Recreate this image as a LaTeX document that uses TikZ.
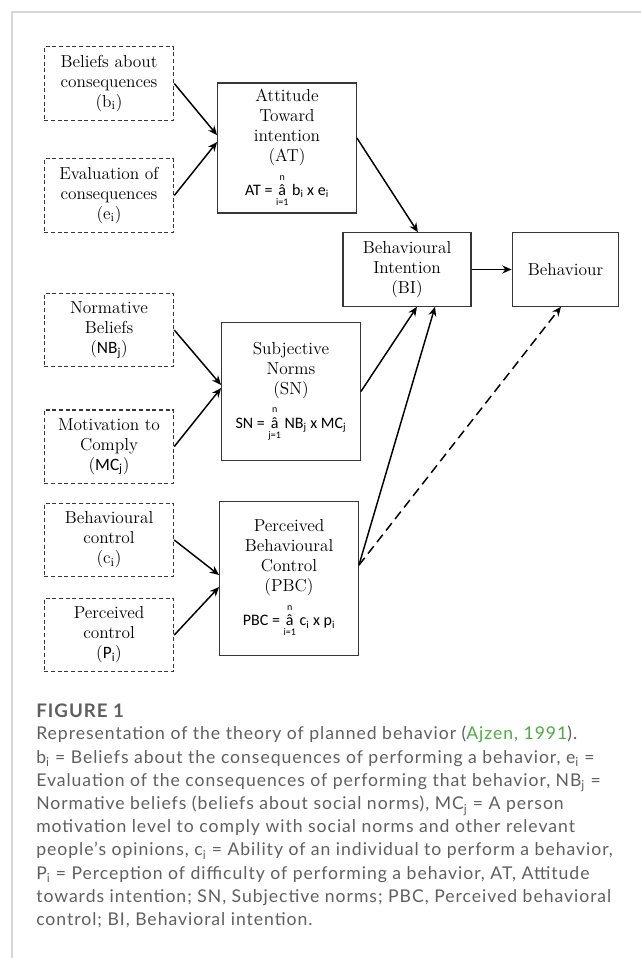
\documentclass[tikz,border=0pt]{standalone}
\usepackage{fontspec}
\usepackage{xcolor}
\usepackage{tikz}
\usetikzlibrary{shapes,arrows,arrows.meta,positioning}

\newfontfamily\capfont[LetterSpace=5.5]{Lato}
\newfontfamily\formfont{Carlito}

\definecolor{boxline}{RGB}{55,55,55}
\definecolor{captext}{RGB}{95,95,95}
\definecolor{citegreen}{RGB}{80,170,70}
\definecolor{framegray}{RGB}{215,215,215}

% summation sign as printed in the figure
\newcommand{\sumhat}[2]{$\mathop{\hbox{\formfont â}}\limits_{\hbox{\formfont\fontsize{7.5}{8}\selectfont\raisebox{-1.5pt}{#1}}}^{\hbox{\formfont\fontsize{7.5}{8}\selectfont\raisebox{1.5pt}{#2}}}$}

\begin{document}
\begin{tikzpicture}[x=0.75pt,y=-0.75pt,node distance=84pt]

\tikzstyle{belief} = [rectangle, draw=boxline, line width=0.9pt, dash pattern=on 3pt off 2pt, minimum width=97pt, minimum height=55pt, text centered, align=center, inner sep=2pt, font=\fontsize{13}{15}\selectfont]
\tikzstyle{construct} = [rectangle, draw=boxline, line width=0.9pt, minimum width=104pt, text centered, align=center, inner sep=2pt, font=\fontsize{13}{15}\selectfont]
\tikzstyle{arrow} = [line width=1.1pt,->,>={Stealth[length=7pt,width=6pt]}]

\useasboundingbox (0,0) rectangle (641,958);
\draw [framegray, line width=1.1pt] (641,12) -- (12,12) -- (12,958);

\node (bel) [belief] at (109,83.5) {Beliefs about\\consequences\\(b\textsubscript{i})};
\node (eva) [belief, below of=bel] {Evaluation of\\consequences\\(e\textsubscript{i})};
\node (nor) [belief, below of=eva, yshift=-16.9pt] {Normative\\Beliefs\\({\formfont NB\textsubscript{j}})};
\node (mot) [belief, below of=nor, yshift=-3.4pt] {Motivation to\\Comply\\({\formfont MC\textsubscript{j}})};
\node (bcon) [belief, below of=mot, yshift=13.9pt] {Behavioural\\control\\(c\textsubscript{i})};
\node (pcon) [belief, below of=bcon, yshift=12.75pt] {Perceived\\control\\({\formfont P\textsubscript{i}})};

\node (att) [construct, minimum height=97.5pt] at (287,148) {Attitude\\Toward\\intention\\(AT)\\[5pt]{\formfont\fontsize{12}{14}\selectfont AT = \sumhat{i=1}{n} b\textsubscript{i} x e\textsubscript{i}}};
\node (sn) [construct, minimum height=104pt] at (291,391.5) {Subjective\\Norms\\(SN)\\[5pt]{\formfont\fontsize{12}{14}\selectfont SN = \sumhat{j=1}{n} NB\textsubscript{j} x MC\textsubscript{j}}};
\node (pbc) [construct, minimum height=115pt] at (289,578.5) {Perceived\\Behavioural\\Control\\(PBC)\\[5pt]{\formfont\fontsize{12}{14}\selectfont PBC = \sumhat{i=1}{n} c\textsubscript{i} x p\textsubscript{i}}};
\node (bi) [construct, minimum width=96pt, minimum height=55pt] at (407,269.5) {Behavioural\\Intention\\(BI)};
\node (beh) [construct, right of=bi, xshift=34.9pt, minimum width=80pt, minimum height=55pt] {Behaviour};

\draw [arrow] (bel.east) -- ([yshift=9.7pt]att.west);
\draw [arrow] (eva.east) -- ([yshift=4.5pt]att.west);
\draw [arrow] (nor.east) -- ([yshift=4.9pt]sn.west);
\draw [arrow] (mot.east) -- ([yshift=2.6pt]sn.west);
\draw [arrow] (bcon.east) -- ([yshift=2.6pt]pbc.west);
\draw [arrow] (pcon.east) -- ([yshift=-6.4pt]pbc.west);
\draw [arrow] ([yshift=7.5pt]att.east) -- ([xshift=8.2pt]bi.north);
\draw [arrow] (sn.east) -- ([xshift=7.5pt]bi.south);
\draw [arrow] ([yshift=10pt]pbc.east) -- ([xshift=21pt]bi.south);
\draw [arrow, dash pattern=on 7pt off 4pt] ([yshift=10pt]pbc.east) -- ([xshift=-3.4pt]beh.south);
\draw [arrow] (bi.east) -- (beh.west);

\node (figlabel) [anchor=base west, inner sep=0pt, text=captext, font=\capfont\fontsize{14}{16}\selectfont\bfseries] at (36,717) {FIGURE 1};
\node (caption) [anchor=north west, align=left, inner sep=0pt, text=captext, font=\capfont\fontsize{13.2}{17.4}\selectfont] at (36,726) {Representation of the theory of planned behavior ({\color{citegreen}Ajzen, 1991}).\\
b\textsubscript{i} = Beliefs about the consequences of performing a behavior, e\textsubscript{i} =\\
Evaluation of the consequences of performing that behavior, NB\textsubscript{j} =\\
Normative beliefs (beliefs about social norms), MC\textsubscript{j} = A person\\
motivation level to comply with social norms and other relevant\\
people’s opinions, c\textsubscript{i} = Ability of an individual to perform a behavior,\\
P\textsubscript{i} = Perception of difficulty of performing a behavior, AT, Attitude\\
towards intention; SN, Subjective norms; PBC, Perceived behavioral\\
control; BI, Behavioral intention.};

\end{tikzpicture}
\end{document}
